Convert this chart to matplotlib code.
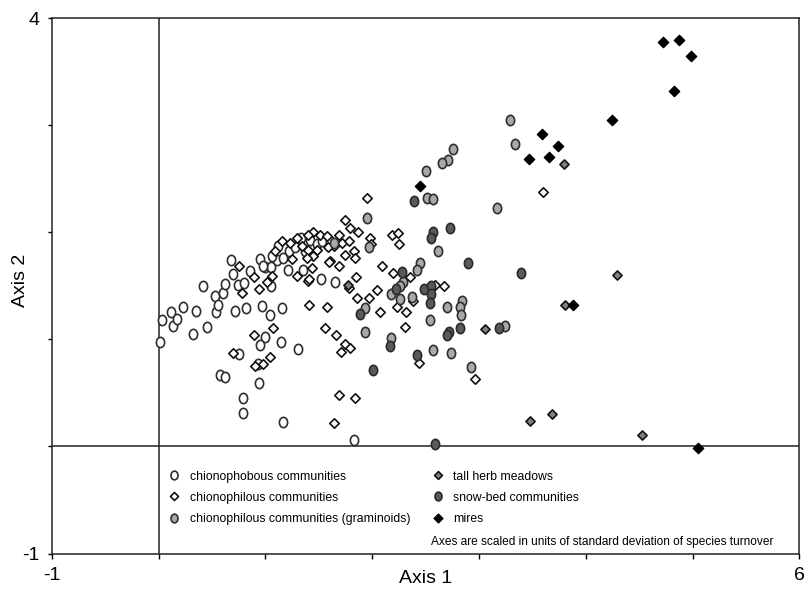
#### ライブラリのインポート ####
import matplotlib.pyplot as plt
from matplotlib.path import Path
from matplotlib.transforms import Affine2D

#### データ ####
# chionophobous communities (白丸)
phob_x = [0.01, 0.03, 0.12, 0.14, 0.17, 0.23, 0.32, 0.35, 0.42, 0.45, 0.53, 0.60, 0.54, 0.56,
          0.62, 0.68, 0.70, 0.74, 0.80, 0.72, 0.82, 0.86, 0.95, 1.00, 1.05, 0.97, 1.04, 1.05,
          1.11, 1.12, 1.16, 1.21, 1.22, 1.35, 1.52, 1.65, 1.00, 0.95, 1.15, 1.31, 0.75, 0.93,
          0.58, 0.62, 0.94, 0.79, 0.79, 1.17, 1.83, 1.06, 1.17, 1.42, 1.48, 1.37, 1.53, 1.61,
          0.98, 1.28, 1.33]
phob_y = [0.98, 1.18, 1.26, 1.13, 1.19, 1.30, 1.05, 1.27, 1.50, 1.12, 1.41, 1.43, 1.26, 1.32,
          1.52, 1.74, 1.61, 1.51, 1.53, 1.27, 1.29, 1.64, 1.75, 1.68, 1.68, 1.31, 1.23, 1.50,
          1.74, 1.87, 1.29, 1.65, 1.83, 1.65, 1.56, 1.54, 1.02, 0.95, 0.98, 0.91, 0.86, 0.77,
          0.67, 0.65, 0.59, 0.45, 0.31, 0.23, 0.06, 1.78, 1.76, 1.93, 1.89, 1.83, 1.92, 1.92,
          1.69, 1.86, 1.95]

# chionophilous communities (白ひし形)
phil_x = [0.75, 0.89, 0.78, 0.94, 1.02, 1.06, 1.16, 1.25, 1.30, 1.40, 1.44, 1.61, 1.69, 1.78,
          1.85, 1.86, 1.97, 2.05, 2.07, 2.09, 2.19, 2.20, 2.23, 1.41, 1.58, 1.56, 1.66, 1.75,
          1.79, 1.71, 1.07, 0.89, 0.70, 1.04, 0.98, 0.90, 1.69, 1.84, 1.64, 1.95, 1.75, 1.79,
          1.87, 1.98, 1.99, 2.24, 2.25, 2.35, 2.38, 2.32, 2.31, 2.59, 2.67, 2.44, 2.96, 3.60,
          1.45, 1.51, 1.58, 1.40, 1.30, 1.23, 1.34, 1.40, 1.48, 1.69, 1.72, 1.64, 1.78, 1.83,
          1.84, 1.75, 1.59, 1.45, 1.39, 1.09, 1.60, 1.41]
phil_y = [1.69, 1.58, 1.43, 1.47, 1.54, 1.59, 1.92, 1.75, 1.59, 1.55, 1.67, 1.73, 1.69, 1.48,
          1.58, 1.39, 1.39, 1.46, 1.26, 1.69, 1.98, 1.62, 1.30, 1.32, 1.30, 1.11, 1.04, 0.96,
          0.92, 0.88, 1.11, 1.04, 0.87, 0.84, 0.77, 0.75, 0.48, 0.45, 0.22, 2.32, 2.12, 2.04,
          2.00, 1.95, 1.89, 1.99, 1.89, 1.58, 1.36, 1.26, 1.12, 1.51, 1.50, 0.78, 0.63, 2.38,
          2.00, 1.98, 1.97, 1.98, 1.95, 1.90, 1.87, 1.84, 1.84, 1.98, 1.90, 1.87, 1.92, 1.83,
          1.76, 1.79, 1.86, 1.78, 1.76, 1.83, 1.72, 1.56]

# chionophilous communities (graminoids) (薄い灰色の丸)
gram_x = [1.95, 1.97, 1.93, 1.93, 2.18, 2.18, 2.76, 2.71, 2.65, 2.50, 2.51, 2.57, 3.17, 2.62,
          2.45, 2.42, 2.29, 2.26, 2.26, 2.37, 2.70, 2.84, 2.82, 2.83, 2.54, 2.57, 2.74, 2.93,
          3.29, 3.34, 3.24, 1.64]
gram_y = [2.13, 1.86, 1.29, 1.07, 1.01, 1.42, 2.78, 2.68, 2.65, 2.57, 2.32, 2.31, 2.23, 1.83,
          1.71, 1.65, 1.54, 1.50, 1.38, 1.40, 1.30, 1.36, 1.30, 1.23, 1.18, 0.90, 0.87, 0.74,
          3.05, 2.83, 1.13, 1.90]

# tall herb meadows (灰色のひし形)
herb_x = [1.77, 3.06, 3.80, 4.29, 3.81, 3.48, 3.68, 4.53]
herb_y = [1.51, 1.10, 2.64, 1.60, 1.32, 0.24, 0.30, 0.11]

# snow-bed communities (濃い灰色の丸)
snow_x = [1.89, 2.01, 2.17, 2.22, 2.39, 2.57, 2.55, 2.73, 2.90, 2.28, 2.49, 2.55, 2.55, 2.54,
          2.72, 2.70, 2.82, 2.42, 2.59, 3.19, 3.39]
snow_y = [1.24, 0.71, 0.94, 1.47, 2.29, 2.00, 1.95, 2.04, 1.71, 1.63, 1.47, 1.50, 1.42, 1.34,
          1.07, 1.04, 1.11, 0.85, 0.02, 1.11, 1.62]

# mires (黒のひし形)
mire_x = [4.72, 4.87, 4.99, 4.83, 4.25, 3.59, 3.74, 3.47, 3.66, 2.45, 3.88, 5.05]
mire_y = [3.78, 3.80, 3.65, 3.32, 3.05, 2.92, 2.81, 2.69, 2.70, 2.43, 1.32, -0.01]

labels = ["chionophobous communities", "chionophilous communities",
          "chionophilous communities (graminoids)", "tall herb meadows",
          "snow-bed communities", "mires"]

#### マーカーの形 ####
# 縦長の楕円とひし形
ellipse = Path.unit_circle().transformed(Affine2D().scale(0.8, 1.0))
diamond = Path([(0, -1), (1, 0), (0, 1), (-1, 0), (0, -1)],
               [Path.MOVETO, Path.LINETO, Path.LINETO, Path.LINETO, Path.CLOSEPOLY])

plt.rcParams["font.family"] = ["Liberation Sans", "DejaVu Sans"]

#### 散布図の作成 ####
fig = plt.figure(figsize=(8.07, 5.93), dpi=100)
ax = fig.add_axes([0.0641, 0.0666, 0.9264, 0.9025])

ax.axvline(0, color="#222222", lw=1.1, zorder=1)
ax.axhline(0, color="#222222", lw=1.1, zorder=1)

ax.plot(phob_x, phob_y, ls="none", marker=ellipse, ms=7.4, mfc="white", mec="#2e2e2e",
        mew=1.2, label=labels[0], zorder=3)
ax.plot(phil_x, phil_y, ls="none", marker=diamond, ms=6.8, mfc="white", mec="#111111",
        mew=1.2, label=labels[1], zorder=3)
ax.plot(gram_x, gram_y, ls="none", marker=ellipse, ms=7.4, mfc="#a9a9a9", mec="#2e2e2e",
        mew=1.2, label=labels[2], zorder=3)
ax.plot(herb_x, herb_y, ls="none", marker=diamond, ms=6.6, mfc="#808080", mec="#111111",
        mew=1.2, label=labels[3], zorder=3)
ax.plot(snow_x, snow_y, ls="none", marker=ellipse, ms=7.4, mfc="#5a5a5a", mec="#2a2a2a",
        mew=1.2, label=labels[4], zorder=3)
ax.plot(mire_x, mire_y, ls="none", marker=diamond, ms=7.4, mfc="black", mec="black",
        mew=1.0, label=labels[5], zorder=3)

# 軸の範囲と目盛
ax.set_xlim(-1, 6)
ax.set_ylim(-1, 4)
ax.set_xticks(range(-1, 7))
ax.set_xticklabels(["-1", "", "", "", "", "", "", "6"])
ax.set_yticks(range(-1, 5))
ax.set_yticklabels(["-1", "", "", "", "", "4"])
ax.tick_params(axis="x", direction="out", length=3.6, width=1.0, pad=6, labelsize=14)
ax.tick_params(axis="y", direction="out", length=2.6, width=1.0, pad=6, labelsize=14)
for s in ax.spines.values():
    s.set_linewidth(1.1)
    s.set_color("#222222")

# ラベル
ax.set_xlabel("Axis 1", fontsize=14)
ax.set_ylabel("Axis 2", fontsize=14)
ax.xaxis.set_label_coords(0.5, -0.03)
ax.yaxis.set_label_coords(-0.031, 0.51)

# 凡例
ax.legend(loc="upper left", bbox_to_anchor=(0.09, -0.225), bbox_transform=ax.transData,
          ncol=2, frameon=False, fontsize=8.8, handlelength=1.0, handletextpad=0.8,
          columnspacing=1.7, labelspacing=0.75, borderpad=0, borderaxespad=0,
          markerscale=0.85)

ax.text(5.757, -0.89, "Axes are scaled in units of standard deviation of species turnover",
        ha="right", va="center", fontsize=8.6)

plt.savefig("out.png", dpi=100)
